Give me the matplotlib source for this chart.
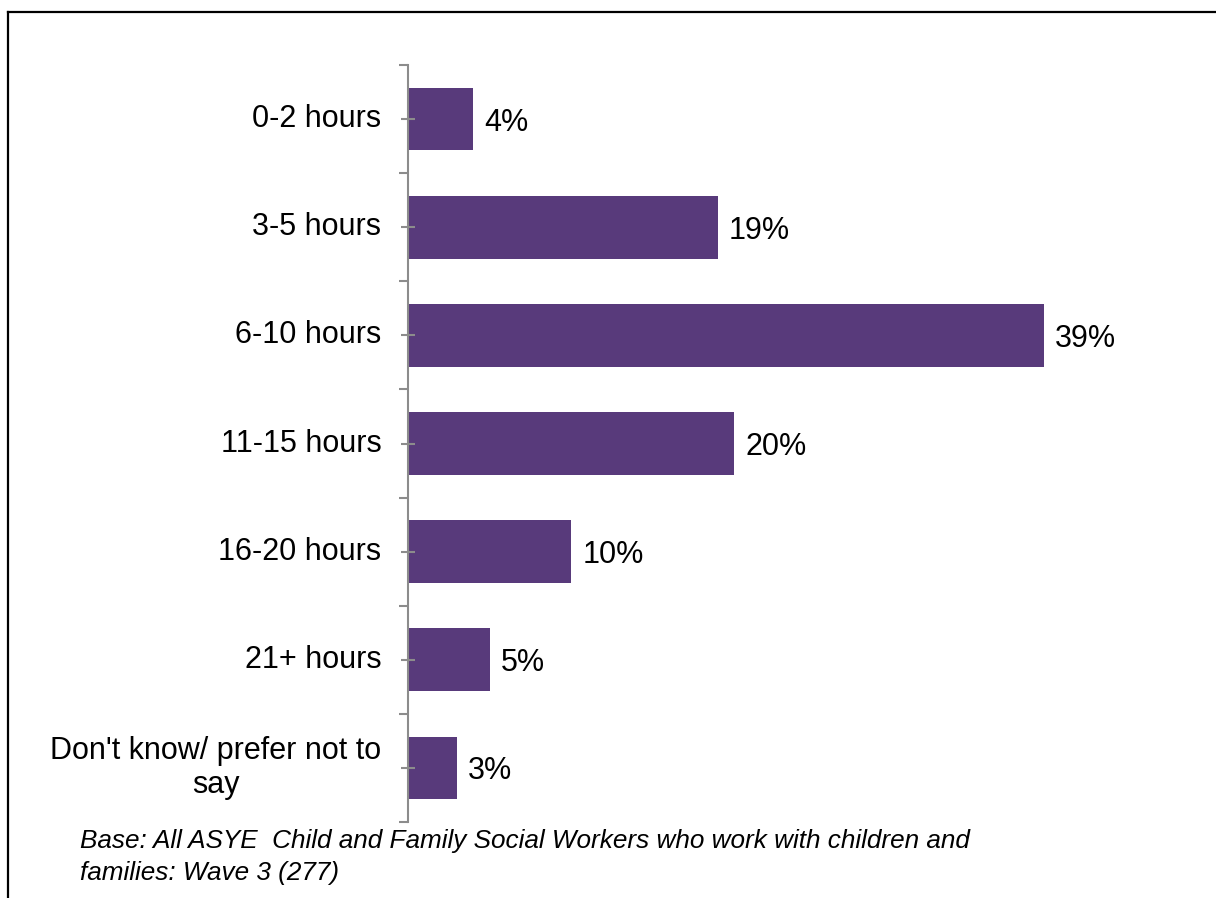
import numpy as np
from matplotlib import pyplot as plt
from matplotlib.lines import Line2D

plt.rcParams['font.family'] = ['Liberation Sans', 'DejaVu Sans']

categories = ['0-2 hours', '3-5 hours', '6-10 hours', '11-15 hours',
              '16-20 hours', '21+ hours', "Don't know/ prefer not to\nsay"]
values = [4, 19, 39, 20, 10, 5, 3]
footnote = ['Base: All ASYE  Child and Family Social Workers who work with children and',
            'families: Wave 3 (277)']

bar_color = '#583A7B'
axis_color = '#8C8C8C'

fig = plt.figure(figsize=(12.16, 8.98), dpi=100)
ax = fig.add_axes([408 / 1216, 76 / 898, 734 / 1216, 757 / 898])

y = np.arange(len(categories))
ax.barh(y, values, height=0.58, color=bar_color)
for i, v in enumerate(values):
    ax.annotate('%d%%' % v, xy=(v, i), xytext=(8, 0), textcoords='offset points',
                fontsize=22, ha='left', va='center_baseline')

ax.set_xlim(0, 45)
ax.set_ylim(len(categories) - 0.5, -0.5)

ax.set_yticks(y)
ax.set_yticklabels(categories, fontsize=22, multialignment='center', va='center')
ax.set_yticks(np.arange(len(categories) + 1) - 0.5, minor=True)
ax.tick_params(axis='y', which='major', direction='inout', length=9.5, width=1.5,
               color=axis_color, pad=14.5)
ax.tick_params(axis='y', which='minor', direction='out', length=6.5, width=1.5,
               color=axis_color)
ax.set_xticks([])

for s in ['top', 'right', 'bottom']:
    ax.spines[s].set_visible(False)
ax.spines['left'].set_color(axis_color)
ax.spines['left'].set_linewidth(1.5)

fig.text(80 / 1216, 1 - 848 / 898, footnote[0], fontsize=18.8, style='italic', va='baseline')
fig.text(80 / 1216, 1 - 880 / 898, footnote[1], fontsize=18.8, style='italic', va='baseline')

# outer frame (top and left only, screenshot is cropped)
fig.add_artist(Line2D([8 / 1216, 8 / 1216], [0, 1 - 12 / 898], color='black', lw=1.6,
                      transform=fig.transFigure))
fig.add_artist(Line2D([8 / 1216, 1], [1 - 12 / 898, 1 - 12 / 898], color='black', lw=1.6,
                      transform=fig.transFigure))

plt.savefig('out.png', dpi=100)
